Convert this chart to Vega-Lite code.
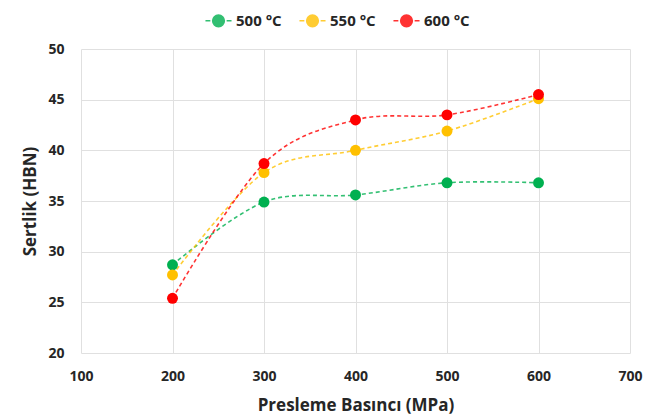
{
  "$schema": "https://vega.github.io/schema/vega-lite/v6.json",
  "width": 549,
  "height": 304,
  "autosize": "none",
  "padding": {"left": 81, "top": 49, "right": 18, "bottom": 67},
  "background": "white",
  "config": {
    "font": "Open Sans",
    "view": {"stroke": null},
    "axis": {
      "labelFont": "Open Sans", "labelFontWeight": "bold", "labelFontSize": 14, "labelColor": "#262626",
      "titleFont": "Open Sans", "titleFontWeight": "bold", "titleFontSize": 17, "titleColor": "#262626",
      "gridColor": "#E0E0E0", "domain": false, "ticks": false, "labelFlush": false
    }
  },
  "data": {
    "values": [
      {"p": 200, "h": 28.7, "t": "500 °C"},
      {"p": 300, "h": 34.9, "t": "500 °C"},
      {"p": 400, "h": 35.6, "t": "500 °C"},
      {"p": 500, "h": 36.8, "t": "500 °C"},
      {"p": 600, "h": 36.8, "t": "500 °C"},
      {"p": 200, "h": 27.7, "t": "550 °C"},
      {"p": 300, "h": 37.8, "t": "550 °C"},
      {"p": 400, "h": 40.0, "t": "550 °C"},
      {"p": 500, "h": 41.9, "t": "550 °C"},
      {"p": 600, "h": 45.1, "t": "550 °C"},
      {"p": 200, "h": 25.4, "t": "600 °C"},
      {"p": 300, "h": 38.7, "t": "600 °C"},
      {"p": 400, "h": 43.0, "t": "600 °C"},
      {"p": 500, "h": 43.5, "t": "600 °C"},
      {"p": 600, "h": 45.5, "t": "600 °C"}
    ]
  },
  "encoding": {
    "x": {"field": "p", "type": "quantitative", "scale": {"domain": [100, 700], "nice": false},
      "axis": {"values": [100, 200, 300, 400, 500, 600, 700], "title": "Presleme Basıncı (MPa)", "labelPadding": 16, "titlePadding": 14}},
    "y": {"field": "h", "type": "quantitative", "scale": {"domain": [20, 50], "nice": false},
      "axis": {"values": [20, 25, 30, 35, 40, 45, 50], "title": "Sertlik (HBN)", "labelPadding": 17, "titlePadding": 8}},
    "color": {"field": "t", "type": "nominal", "scale": {"domain": ["500 °C", "550 °C", "600 °C"], "range": ["#00B050", "#FFC000", "#FF0000"]},
      "legend": {"title": null, "orient": "none", "direction": "horizontal", "legendX": 130, "legendY": -36,
        "labelFont": "Open Sans", "labelFontWeight": "bold", "labelFontSize": 15, "labelColor": "#262626",
        "symbolType": "M-2,0L-1.25,0M1.25,0L2,0M-0.9,0A0.9,0.9 0 1,1 0.9,0A0.9,0.9 0 1,1 -0.9,0Z",
        "symbolSize": 170, "symbolStrokeWidth": 1.5, "columnPadding": 14, "labelOffset": 10}}
  },
  "layer": [
    {"mark": {"type": "line", "interpolate": "cardinal", "strokeDash": [4, 3], "strokeWidth": 1.6, "opacity": 0.8}},
    {"mark": {"type": "point", "filled": true, "shape": "circle", "size": 120, "opacity": 1}}
  ]
}
